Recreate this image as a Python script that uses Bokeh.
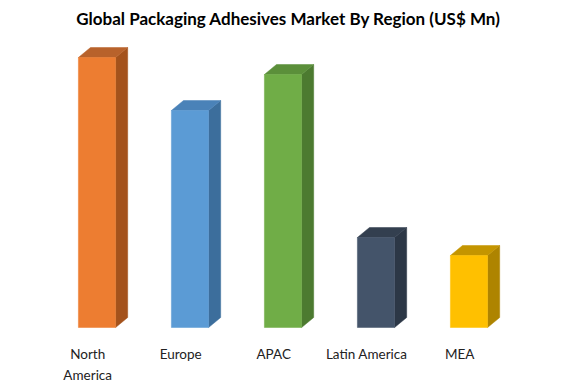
from bokeh.plotting import figure
from bokeh.models import Range1d
from bokeh.core.properties import value
from bokeh.embed import file_html
from bokeh.resources import INLINE

# ---- data ----
regions = ["North America", "Europe", "APAC", "Latin America", "MEA"]
tick_labels = ["North\nAmerica", "Europe", "APAC", "Latin America", "MEA"]
market_size = [2700, 2170, 2530, 900, 720]

front_colors = ["#ED7D31", "#5B9BD5", "#70AD47", "#44546A", "#FFC000"]
side_colors = ["#A4521C", "#3C6E9C", "#4C7A30", "#2C3746", "#AE8400"]
top_colors = ["#B8622B", "#4A82B8", "#5B8F3A", "#333F4F", "#C49500"]

# ---- geometry (style) ----
half_w = 0.2
dx = 0.13
dy = 100

p = figure(width=576, height=384, output_backend="svg", toolbar_location=None,
           x_range=Range1d(-1.0376, 5.156), y_range=Range1d(-570, 2940),
           min_border_left=0, min_border_right=0, min_border_bottom=0, min_border_top=0)
p.title.text = "Global Packaging Adhesives Market By Region (US$ Mn)"
p.title.align = "center"
p.title.text_font = "Lato"
p.title.text_font_size = "17px"
p.title.text_font_style = "bold"
p.title.text_color = "#000000"
p.axis.visible = False
p.grid.visible = False
p.outline_line_color = None
p.background_fill_color = "white"
p.border_fill_color = "white"

fx, fy, sx, sy, tx, ty = [], [], [], [], [], []
for i, v in enumerate(market_size):
    x0, x1 = i - half_w, i + half_w
    fx.append([x0, x1, x1, x0]); fy.append([0, 0, v, v])
    sx.append([x1, x1 + dx, x1 + dx, x1]); sy.append([0, dy, v + dy, v])
    tx.append([x0, x1, x1 + dx, x0 + dx]); ty.append([v, v, v + dy, v + dy])

p.patches(sx, sy, fill_color=side_colors, line_color=side_colors, line_width=0.5)
p.patches(tx, ty, fill_color=top_colors, line_color=top_colors, line_width=0.5)
p.patches(fx, fy, fill_color=front_colors, line_color=front_colors, line_width=0.5)

label_x = [i - 0.1 for i in range(len(regions))]
label_y = [-180] * len(regions)
p.text(label_x, label_y, text=tick_labels, text_align="center", text_baseline="top",
       text_font=value("Lato"), text_font_size="13.5px", text_color="#222222",
       text_line_height=1.35)

open("out.html", "w").write(file_html(p, INLINE))
